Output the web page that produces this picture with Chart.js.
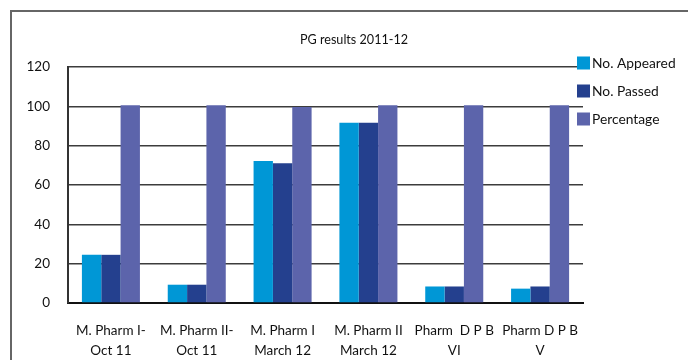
<!DOCTYPE html>
<html>
<head>
<meta charset="utf-8">
<script src="https://cdn.jsdelivr.net/npm/chart.js@4.4.0/dist/chart.umd.min.js"></script>
<style>
  html, body { margin: 0; padding: 0; background: #fff; }
  #wrap { position: relative; width: 688px; height: 360px; }
</style>
</head>
<body>
<div id="wrap"><canvas id="c" width="688" height="360"></canvas></div>
<script>
// Course / exam session labels (two lines each)
const categories = [
  ['M. Pharm I-', 'Oct 11'],
  ['M. Pharm II-', 'Oct 11'],
  ['M. Pharm I', 'March 12'],
  ['M. Pharm II', 'March 12'],
  ['Pharm  D P B', 'VI'],
  ['Pharm D P B', 'V']
];
const seriesNames = ['No. Appeared', 'No. Passed', 'Percentage'];
const appeared = [24.5, 9.3, 72.2, 91.6, 8.4, 7.3];
const passed = [24.5, 9.3, 71.1, 91.6, 8.4, 8.4];
const percentage = [100.6, 100.6, 99.6, 100.6, 100.6, 100.6];
const yTicks = [0, 20, 40, 60, 80, 100, 120];
const chartTitle = 'PG results 2011-12';

const colors = ['#0097d6', '#24408e', '#5c64ab'];
const FONT = 'Lato, "Open Sans", sans-serif';
const TEXT = '#111';

// Outer frame, title and side legend
const decor = {
  id: 'decor',
  beforeDraw(chart) {
    const ctx = chart.ctx;
    ctx.save();
    ctx.strokeStyle = '#666';
    ctx.lineWidth = 2;
    ctx.beginPath();
    ctx.moveTo(11, 360);
    ctx.lineTo(11, 11);
    ctx.lineTo(688, 11);
    ctx.stroke();
    ctx.restore();
  },
  afterDraw(chart) {
    const ctx = chart.ctx;
    ctx.save();
    ctx.fillStyle = TEXT;
    ctx.font = '12.6px ' + FONT;
    ctx.textAlign = 'center';
    ctx.textBaseline = 'middle';
    ctx.fillText(chartTitle, 354, 40);

    ctx.font = '13.8px ' + FONT;
    ctx.textAlign = 'left';
    chart.data.datasets.forEach((ds, i) => {
      const cy = 63 + i * 28;
      ctx.fillStyle = ds.backgroundColor;
      ctx.fillRect(577, cy - 6.5, 13, 13);
      ctx.fillStyle = TEXT;
      ctx.fillText(ds.label, 592, cy + 0.5);
    });
    ctx.restore();
  }
};

new Chart(document.getElementById('c'), {
  type: 'bar',
  data: {
    labels: categories,
    datasets: [
      { label: seriesNames[0], data: appeared, backgroundColor: colors[0] },
      { label: seriesNames[1], data: passed, backgroundColor: colors[1] },
      { label: seriesNames[2], data: percentage, backgroundColor: colors[2] }
    ]
  },
  options: {
    responsive: false,
    animation: false,
    events: [],
    layout: { padding: { left: 0, top: 67, right: 105, bottom: 0 } },
    datasets: { bar: { categoryPercentage: 0.676, barPercentage: 1 } },
    plugins: { legend: { display: false }, title: { display: false }, tooltip: { enabled: false } },
    scales: {
      x: {
        grid: { display: false, drawTicks: false },
        border: { display: true, color: '#111', width: 2 },
        ticks: {
          color: TEXT,
          font: { family: FONT, size: 13.5, lineHeight: 1.45 },
          padding: 18,
          maxRotation: 0,
          autoSkip: false
        },
        afterFit(s) { s.height = 57; }
      },
      y: {
        min: 0,
        max: 120,
        afterBuildTicks(s) { s.ticks = yTicks.map(v => ({ value: v })); },
        grid: { color: '#3c3c3c', lineWidth: 1.5, drawTicks: false },
        border: { display: true, color: '#333', width: 2 },
        ticks: {
          color: TEXT,
          font: { family: FONT, size: 13.5 },
          padding: 18
        },
        afterFit(s) { s.width = 68; }
      }
    }
  },
  plugins: [decor]
});
</script>
</body>
</html>
